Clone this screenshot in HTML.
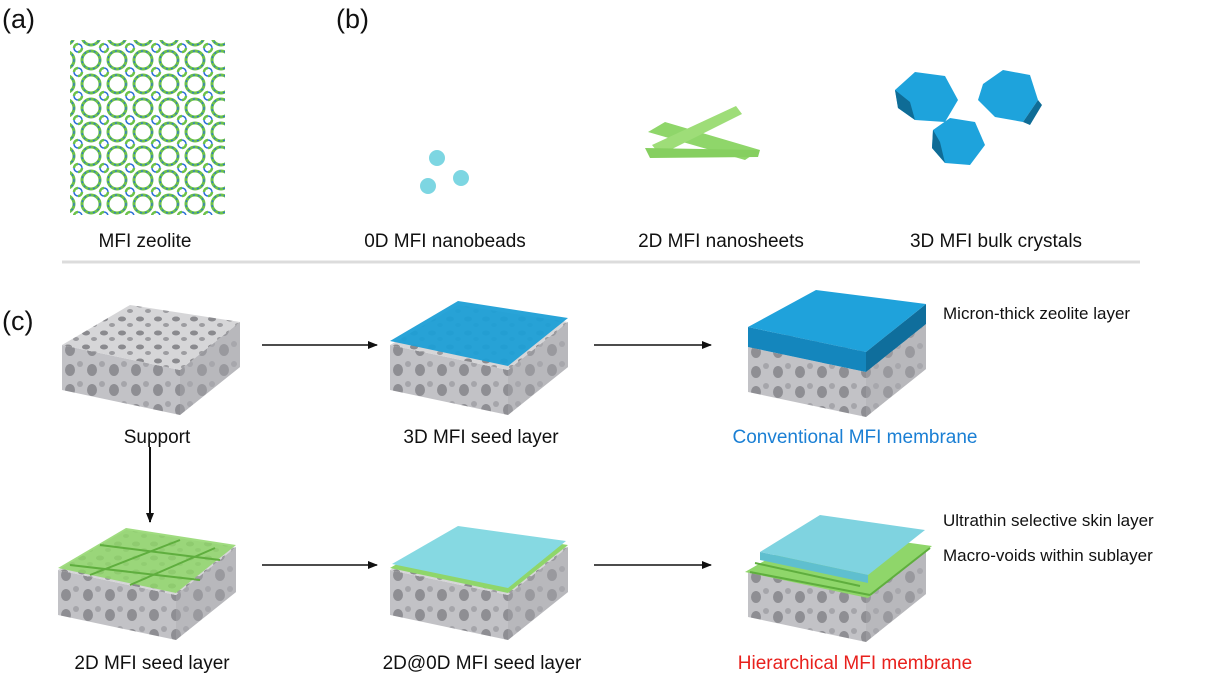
<!DOCTYPE html>
<html><head><meta charset="utf-8"><style>
html,body{margin:0;padding:0;background:#fff;}
svg{display:block}
text{font-family:"Liberation Sans",Arial,sans-serif;fill:#111}
</style></head><body>
<svg width="1206" height="688" viewBox="0 0 1206 688" xmlns="http://www.w3.org/2000/svg">
<defs>
<marker id="ah" markerWidth="10" markerHeight="8" refX="9" refY="4" orient="auto" markerUnits="userSpaceOnUse">
<path d="M0,0 L10,4 L0,8 Z" fill="#111"/></marker>
<pattern id="lat" width="26" height="24" patternUnits="userSpaceOnUse">
<rect width="26" height="24" fill="none"/>
<circle cx="13" cy="12" r="9" fill="none" stroke="#6cc24a" stroke-width="3"/>
<circle cx="13" cy="12" r="9" fill="none" stroke="#2a6fd6" stroke-width="1.2" stroke-dasharray="2 3"/>
<circle cx="0" cy="0" r="4" fill="none" stroke="#6cc24a" stroke-width="2.5"/>
<circle cx="26" cy="24" r="4" fill="none" stroke="#6cc24a" stroke-width="2.5"/>
<circle cx="26" cy="0" r="4" fill="none" stroke="#2a6fd6" stroke-width="1.5"/>
<circle cx="0" cy="24" r="4" fill="none" stroke="#2a6fd6" stroke-width="1.5"/>
</pattern>
<pattern id="pore" width="18" height="14" patternUnits="userSpaceOnUse">
<rect width="18" height="14" fill="#d6d6d8"/>
<ellipse cx="6" cy="5" rx="4" ry="2.5" fill="#8a8a8e"/>
<ellipse cx="14" cy="11" rx="3" ry="2" fill="#9c9ca0"/>
</pattern>
<pattern id="sidep" width="22" height="20" patternUnits="userSpaceOnUse">
<rect width="22" height="20" fill="#c2c2c6"/>
<ellipse cx="8" cy="10" rx="5" ry="6" fill="#8e8e93"/>
<ellipse cx="18" cy="4" rx="3" ry="3" fill="#a5a5aa"/>
</pattern>
<g id="blk">
<path d="M0,45 L118,70 L118,115 L0,90 Z" fill="url(#sidep)"/>
<path d="M118,70 L178,22 L178,67 L118,115 Z" fill="#a9a9ae"/>
<path d="M118,70 L178,22 L178,67 L118,115 Z" fill="url(#sidep)" opacity="0.6"/>
<path d="M0,45 L68,5 L178,22 L118,70 Z" fill="url(#pore)"/>
</g>
</defs>

<!-- (a) -->
<text x="2" y="28" font-size="27">(a)</text>
<rect x="70" y="40" width="155" height="175" fill="url(#lat)"/>
<text x="145" y="247" font-size="19" text-anchor="middle">MFI zeolite</text>

<!-- (b) -->
<text x="336" y="28" font-size="27">(b)</text>
<circle cx="437" cy="158" r="8" fill="#7dd6e2"/>
<circle cx="428" cy="186" r="8" fill="#7dd6e2"/>
<circle cx="461" cy="178" r="8" fill="#7dd6e2"/>
<path d="M648,132 L665,122 L760,150 L745,160 Z" fill="#8fd66a"/>
<path d="M652,145 L736,106 L742,114 L660,155 Z" fill="#9edd78"/>
<path d="M645,148 L760,150 L758,157 L650,158 Z" fill="#86cf60"/>
<g fill="#1ea3dc">
<polygon points="895,90 915,72 945,76 958,100 945,122 915,120 898,108"/>
<polygon points="983,84 1003,70 1030,75 1038,100 1023,122 995,117 978,100"/>
<polygon points="933,130 950,118 975,122 985,145 970,165 945,163 932,148"/>
</g>
<g fill="#0f6c96">
<polygon points="895,90 898,108 915,120 910,102"/>
<polygon points="1038,100 1023,122 1030,125 1042,105"/>
<polygon points="933,130 932,148 945,163 940,142"/>
</g>
<text x="445" y="247" font-size="19" text-anchor="middle">0D MFI nanobeads</text>
<text x="721" y="247" font-size="19" text-anchor="middle">2D MFI nanosheets</text>
<text x="996" y="247" font-size="19" text-anchor="middle">3D MFI bulk crystals</text>

<line x1="62" y1="262" x2="1140" y2="262" stroke="#dcdcdc" stroke-width="3"/>

<!-- (c) -->
<text x="2" y="330" font-size="27">(c)</text>

<use href="#blk" transform="translate(62,300)"/>
<text x="157" y="443" font-size="19" text-anchor="middle">Support</text>

<use href="#blk" transform="translate(390,300)"/>
<path d="M390,341 L458,301 L568,318 L508,366 Z" fill="#1e9fd6" opacity="0.95"/>
<text x="481" y="443" font-size="19" text-anchor="middle">3D MFI seed layer</text>

<use href="#blk" transform="translate(748,302)"/>
<path d="M748,327 L866,352 L866,372 L748,347 Z" fill="#1486bd"/>
<path d="M866,352 L926,304 L926,324 L866,372 Z" fill="#0f6e9c"/>
<path d="M748,327 L816,290 L926,304 L866,352 Z" fill="#1fa2db"/>
<text x="855" y="443" font-size="19" text-anchor="middle" style="fill:#1a7fd4">Conventional MFI membrane</text>
<text x="943" y="319" font-size="17">Micron-thick zeolite layer</text>

<line x1="262" y1="345" x2="377" y2="345" stroke="#111" stroke-width="1.5" marker-end="url(#ah)"/>
<line x1="594" y1="345" x2="711" y2="345" stroke="#111" stroke-width="1.5" marker-end="url(#ah)"/>
<line x1="150" y1="447" x2="150" y2="522" stroke="#111" stroke-width="2" marker-end="url(#ah)"/>

<use href="#blk" transform="translate(58,525)"/>
<path d="M58,568 L126,528 L236,545 L176,593 Z" fill="#8fd66a" opacity="0.85"/>
<g stroke="#5fae3e" stroke-width="2">
<line x1="70" y1="565" x2="200" y2="580"/><line x1="100" y1="545" x2="220" y2="560"/>
<line x1="90" y1="575" x2="180" y2="540"/><line x1="130" y1="585" x2="215" y2="548"/>
</g>
<text x="152" y="669" font-size="19" text-anchor="middle">2D MFI seed layer</text>

<use href="#blk" transform="translate(390,525)"/>
<path d="M390,568 L458,528 L568,545 L508,593 Z" fill="#8fd66a"/>
<path d="M392,564 L458,526 L566,541 L508,588 Z" fill="#86d9e2"/>
<text x="482" y="669" font-size="19" text-anchor="middle">2D@0D MFI seed layer</text>

<use href="#blk" transform="translate(748,527)"/>
<path d="M745,572 L818,530 L932,546 L868,598 Z" fill="#8fd66a"/>
<g stroke="#5fae3e" stroke-width="2">
<line x1="750" y1="572" x2="870" y2="595"/><line x1="870" y1="595" x2="930" y2="548"/>
<line x1="755" y1="563" x2="860" y2="586"/>
</g>
<path d="M760,552 L820,515 L925,530 L868,575 Z" fill="#7fd3e0"/>
<path d="M760,552 L868,575 L868,583 L760,560 Z" fill="#5fbfcf"/>
<text x="855" y="669" font-size="19" text-anchor="middle" style="fill:#e8201c">Hierarchical MFI membrane</text>
<text x="943" y="526" font-size="17">Ultrathin selective skin layer</text>
<text x="943" y="561" font-size="17">Macro-voids within sublayer</text>

<line x1="262" y1="565" x2="377" y2="565" stroke="#111" stroke-width="1.5" marker-end="url(#ah)"/>
<line x1="594" y1="565" x2="711" y2="565" stroke="#111" stroke-width="1.5" marker-end="url(#ah)"/>
</svg>
</body></html>
